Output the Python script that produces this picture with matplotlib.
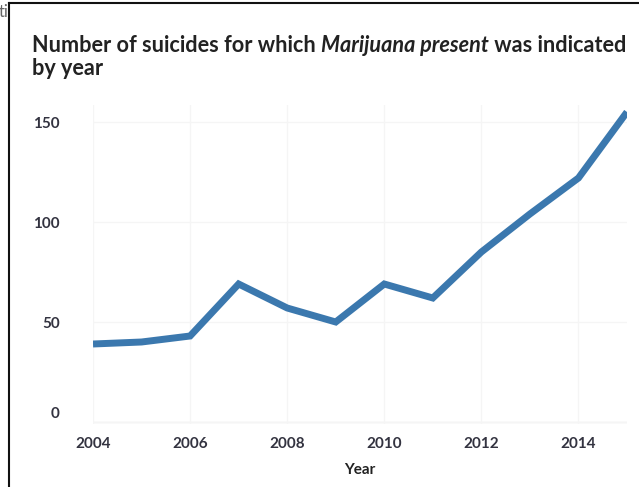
import matplotlib
matplotlib.use("Agg")
import matplotlib.pyplot as plt
from matplotlib.lines import Line2D
from matplotlib.transforms import ScaledTranslation

years = [2004, 2005, 2006, 2007, 2008, 2009, 2010, 2011, 2012, 2013, 2014, 2015]
suicides = [39, 40, 43, 69, 57, 50, 69, 62, 85, 104, 122, 155]
xticks = [2004, 2006, 2008, 2010, 2012, 2014]
yticks = [0, 50, 100, 150]

FONT = ["Lato", "DejaVu Sans"]
plt.rcParams["font.family"] = FONT

W, H = 639, 487
fig = plt.figure(figsize=(W / 100, H / 100), dpi=100)
fig.patch.set_facecolor("white")

def px(x, y):
    return x / W, 1 - y / H

ax = fig.add_axes([93 / W, 1 - 424 / H, (627 - 93) / W, (424 - 105) / H])
ax.plot(years, suicides, color="#3b78ae", lw=5, solid_joinstyle="miter", solid_capstyle="butt", zorder=3)
ax.set_xlim(2004, 2015)
ax.set_ylim(-1, 158.5)
ax.set_xticks(xticks)
ax.set_yticks(yticks)
ax.set_xticklabels([str(t) for t in xticks])
ax.set_yticklabels([str(t) for t in yticks])
for s in ax.spines.values():
    s.set_visible(False)
ax.grid(True, color="#f5f5f5", lw=1)
ax.axhline(0, color="#ebebeb", lw=1, zorder=1)
ax.tick_params(axis="both", length=0, labelsize=11, labelcolor="#333340")
ax.tick_params(axis="x", pad=9)
ax.tick_params(axis="y", pad=24)
for lab in ax.get_xticklabels() + ax.get_yticklabels():
    lab.set_fontweight("bold")
# the zero label sits a little higher in the reference
ylabs = ax.get_yticklabels()
ylabs[0].set_transform(ylabs[0].get_transform() + ScaledTranslation(0, 9 / 100, fig.dpi_scale_trans))
ax.set_xlabel("Year", fontsize=11, fontweight="bold", color="#222222", labelpad=9)

# title in segments
tfs = 15
t1 = fig.text(*px(32, 52), "Number of suicides for which ", fontsize=tfs, fontweight="bold",
              color="#222222", va="baseline", ha="left")
t2 = fig.text(0, 0, "Marijuana present", fontsize=tfs, fontweight="bold", style="italic",
              color="#222222", va="baseline", ha="left")
t3 = fig.text(0, 0, " was indicated", fontsize=tfs, fontweight="bold",
              color="#222222", va="baseline", ha="left")
t4 = fig.text(*px(32, 75), "by year", fontsize=tfs, fontweight="bold",
              color="#222222", va="baseline", ha="left")

r = fig.canvas.get_renderer()
def layout():
    bb = t1.get_window_extent(r)
    t2.set_position((bb.x1 / W, 1 - 52 / H))
    bb2 = t2.get_window_extent(r)
    t3.set_position((bb2.x1 / W, 1 - 52 / H))
    return t3.get_window_extent(r).x1

end = layout()
scale = (627 - 32) / (end - 32)
for t in (t1, t2, t3, t4):
    t.set_fontsize(tfs * scale)
layout()

# frame lines
fig.add_artist(Line2D([9 / W, 9 / W], [0, 1 - 3 / H], color="#111111", lw=1.5))
fig.add_artist(Line2D([9 / W, 1], [1 - 3 / H, 1 - 3 / H], color="#111111", lw=1.5))
fig.text(*px(-1, 17), "ti", fontsize=12, color="#666666", ha="left", va="baseline", zorder=0)

fig.savefig("out.png", dpi=100)
